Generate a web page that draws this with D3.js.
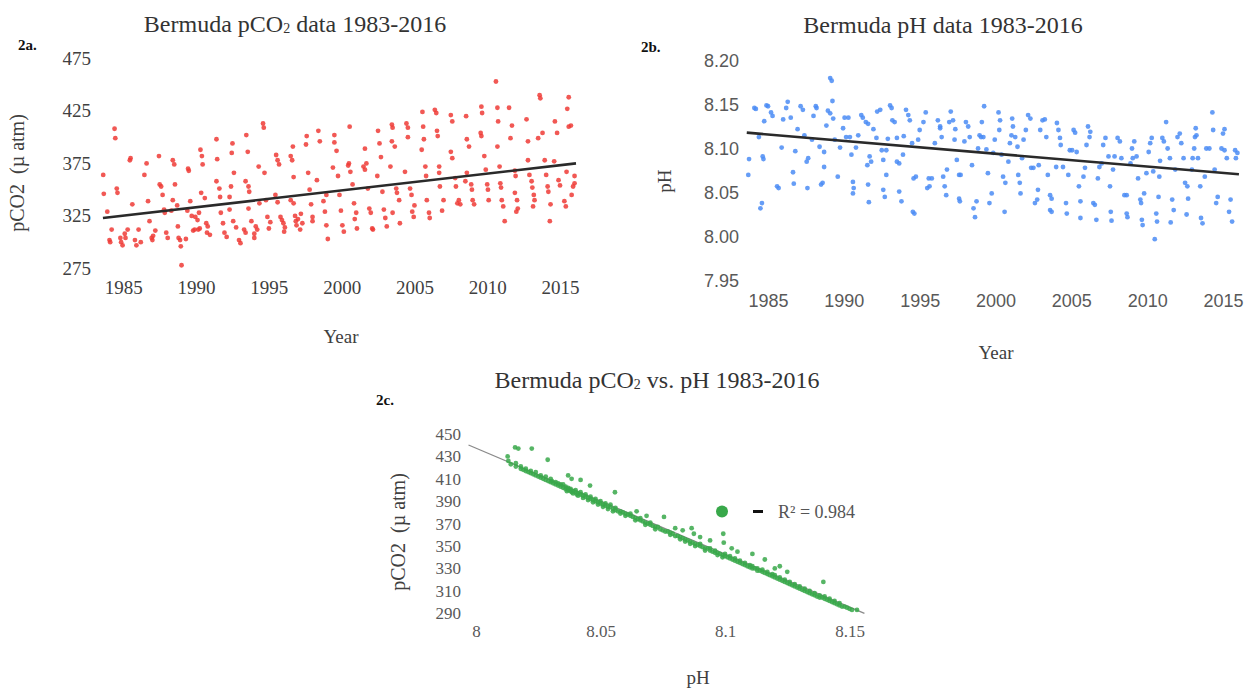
<!DOCTYPE html>
<html><head><meta charset="utf-8">
<script src="https://cdn.jsdelivr.net/npm/d3@7"></script>
<style>body{margin:0;background:#fff}svg{display:block}</style>
</head><body><svg id="c" width="1248" height="688"></svg>
<script>
// ---------- data ----------
const yearTicks = [1985, 1990, 1995, 2000, 2005, 2010, 2015];
const pco2Ticks = [275, 325, 375, 425, 475];
const phTicks = [7.95, 8.00, 8.05, 8.10, 8.15, 8.20];
const scatterPco2Ticks = [290, 310, 330, 350, 370, 390, 410, 430, 450];
const scatterPhTicks = [8, 8.05, 8.1, 8.15];

// Panel 2a: [year, pCO2 (µatm)]
const pco2Series = [
[1983.62,364],[1983.66,346],[1983.9,329],[1984.05,302],[1984.1,300],
[1984.2,312],[1984.4,408],[1984.45,399],[1984.55,351],[1984.6,347],[1984.8,304],[1984.85,300],[1984.95,297],[1985.1,308],[1985.15,304],
[1985.3,312],[1985.45,378],[1985.5,380],[1985.62,336],[1985.8,302],[1985.9,297],[1986.05,312],[1986.2,300],
[1986.45,364],[1986.6,375],[1986.7,339],[1986.8,320],[1986.95,304],[1987.05,306],[1987.0,302],[1987.2,311],
[1987.45,382],[1987.5,355],[1987.6,353],[1987.7,345],[1987.8,331],[1987.95,309],[1988.05,304],[1987.85,328],
[1988.4,378],[1988.5,374],[1988.55,355],[1988.4,340],[1988.7,335],[1988.75,315],[1988.8,304],[1988.9,302],[1988.95,296],[1989.0,278],[1988.3,330],
[1989.45,370],[1989.5,368],[1989.6,339],[1989.4,330],[1989.7,325],[1989.9,312],[1989.8,311],[1989.3,303],
[1990.3,388],[1990.4,382],[1990.45,374],[1990.35,347],[1990.2,328],[1989.95,324],[1990.1,321],[1990.15,312],[1990.25,313],
[1990.6,342],[1990.7,318],[1990.8,315],[1990.75,309],[1990.95,307],[1991.4,398],[1991.45,379],[1991.4,358],[1991.6,351],[1991.65,343],[1991.7,328],[1991.85,318],[1991.95,309],[1992.1,305],
[1992.5,394],[1992.45,385],[1992.6,366],[1992.4,353],[1992.3,343],[1992.3,331],[1992.55,320],[1992.75,314],[1992.95,302],[1993.05,299],
[1993.45,402],[1993.55,386],[1993.4,358],[1993.6,353],[1993.65,348],[1993.6,332],[1993.3,312],[1993.4,309],[1993.8,320],[1994.0,308],
[1994.1,315],[1994.2,312],[1994.3,372],[1994.35,337],[1994.0,304],[1994.6,413],[1994.65,409],[1994.7,366],[1994.8,340],[1994.9,324],[1995.0,313],[1995.1,319],
[1995.5,383],[1995.6,378],[1995.7,374],[1995.45,345],[1995.6,338],[1995.8,324],[1995.9,321],[1996.0,318],[1996.05,310],[1996.1,314],
[1996.5,382],[1996.6,378],[1996.65,391],[1996.7,362],[1996.7,337],[1996.8,325],[1996.85,320],[1996.9,316],[1996.5,340],[1997.0,322],
[1997.15,312],[1997.2,327],[1997.3,318],[1997.6,401],[1997.55,393],[1997.7,366],[1997.9,336],[1998.0,324],[1998.0,320],[1997.8,350],
[1998.4,406],[1998.5,396],[1998.3,359],[1998.75,339],[1998.85,329],[1998.95,316],[1999.05,303],[1998.95,345],
[1999.5,402],[1999.5,395],[1999.65,387],[1999.4,371],[1999.75,363],[1999.85,345],[1999.95,330],[2000.05,316],[2000.15,310],
[2000.55,410],[2000.5,375],[2000.45,373],[2000.6,367],[2000.75,355],[2000.85,337],[2001.0,328],[2001.05,313],[2000.9,322],
[2001.6,389],[2001.5,372],[2001.6,369],[2001.7,375],[2001.8,351],[2001.9,332],[2002.0,328],[2002.1,313],[2002.15,312],
[2002.5,406],[2002.6,394],[2002.7,381],[2002.45,363],[2002.8,348],[2002.9,331],[2003.0,323],[2003.1,315],
[2003.45,412],[2003.5,409],[2003.45,396],[2003.65,391],[2003.35,372],[2003.75,351],[2003.8,347],[2003.5,328],[2003.95,340],[2004.0,318],
[2004.45,413],[2004.55,409],[2004.55,400],[2004.35,367],[2004.7,351],[2004.85,329],[2004.95,324],[2004.8,345],[2005.0,335],
[2005.55,424],[2005.6,410],[2005.65,398],[2005.5,388],[2005.75,372],[2005.8,363],[2005.85,340],[2006.0,328],[2006.05,323],
[2006.4,426],[2006.5,423],[2006.55,406],[2006.6,401],[2006.7,372],[2006.7,366],[2006.75,353],[2007.0,340],[2006.9,330],
[2007.5,421],[2007.6,415],[2007.5,386],[2007.6,380],[2007.8,361],[2007.85,353],[2007.95,337],[2008.05,340],[2008.15,336],
[2008.55,420],[2008.6,398],[2008.75,391],[2008.6,366],[2008.5,358],[2008.9,355],[2008.95,350],[2009.0,340],[2009.1,336],
[2009.6,429],[2009.65,423],[2009.55,404],[2009.6,401],[2009.8,382],[2009.9,369],[2010.0,355],[2010.05,350],[2010.1,340],
[2010.6,453],[2010.7,428],[2010.75,415],[2010.7,391],[2010.85,372],[2010.9,356],[2010.95,352],[2011.0,340],[2011.1,334],[2011.2,320],
[2011.5,428],[2011.7,411],[2011.6,399],[2011.9,368],[2011.95,363],[2011.9,347],[2012.05,340],[2012.1,332],[2012.0,329],
[2012.7,417],[2012.8,396],[2012.8,378],[2012.9,364],[2013.05,358],[2013.1,352],[2013.2,345],[2013.25,340],[2013.15,334],
[2013.6,440],[2013.65,437],[2013.5,399],[2013.8,404],[2013.95,378],[2014.05,364],[2014.15,353],[2014.2,348],[2014.35,336],[2014.3,320],
[2014.65,415],[2014.8,404],[2014.6,377],[2014.9,359],[2015.0,354],[2015.3,339],[2015.4,334],[2015.45,367],
[2015.6,438],[2015.5,427],[2015.6,410],[2015.75,411],[2016.0,363],[2016.0,356],[2015.9,353],[2015.8,345]
];
const pco2Trend = [[1983.6, 323], [2016.1, 375]];

// Panel 2b: [year, pH]
const phSeries = [
[1983.7,8.070],[1983.75,8.088],[1984.1,8.146],[1984.2,8.145],[1984.4,8.113],[1984.5,8.032],[1984.6,8.038],[1984.65,8.091],[1984.7,8.088],[1984.75,8.131],
[1984.9,8.149],[1985.0,8.148],[1985.2,8.141],[1985.3,8.137],[1985.6,8.057],[1985.7,8.055],[1985.9,8.101],[1986.0,8.133],[1986.2,8.146],[1986.3,8.153],
[1986.5,8.135],[1986.65,8.073],[1986.7,8.060],[1986.8,8.097],[1986.95,8.122],[1987.15,8.148],[1987.3,8.144],[1987.4,8.115],[1987.55,8.085],[1987.65,8.089],
[1987.6,8.055],[1987.9,8.110],[1988.0,8.137],[1988.15,8.148],[1988.2,8.146],[1988.4,8.102],[1988.5,8.059],[1988.6,8.061],[1988.7,8.079],[1988.7,8.096],
[1988.85,8.126],[1988.95,8.143],[1989.1,8.140],[1989.1,8.180],[1989.2,8.177],[1989.25,8.154],[1989.3,8.134],[1989.4,8.110],[1989.6,8.068],[1989.75,8.101],
[1989.95,8.123],[1990.05,8.135],[1990.3,8.135],[1990.15,8.113],[1990.4,8.113],[1990.5,8.093],[1990.6,8.062],[1990.65,8.055],[1990.6,8.049],[1990.8,8.101],
[1990.95,8.115],[1991.15,8.138],[1991.25,8.135],[1991.45,8.130],[1991.6,8.128],[1991.6,8.059],[1991.65,8.039],[1991.55,8.081],[1991.7,8.091],[1991.8,8.085],
[1991.95,8.122],[1992.15,8.112],[1992.2,8.142],[1992.4,8.144],[1992.5,8.098],[1992.6,8.087],[1992.6,8.053],[1992.7,8.045],[1992.8,8.098],[1992.8,8.070],
[1992.9,8.111],[1993.05,8.149],[1993.15,8.146],[1993.2,8.132],[1993.35,8.130],[1993.5,8.112],[1993.5,8.085],[1993.65,8.083],[1993.65,8.051],[1993.8,8.040],
[1993.9,8.093],[1993.95,8.114],[1994.1,8.144],[1994.25,8.138],[1994.35,8.132],[1994.5,8.106],[1994.6,8.066],[1994.75,8.068],[1994.55,8.028],[1994.65,8.026],
[1994.9,8.110],[1995.0,8.121],[1995.25,8.130],[1995.4,8.141],[1995.5,8.055],[1995.65,8.057],[1995.6,8.066],[1995.8,8.066],[1996.0,8.106],[1996.2,8.132],
[1996.35,8.125],[1996.35,8.123],[1996.45,8.113],[1996.55,8.068],[1996.65,8.057],[1996.75,8.047],[1996.8,8.076],[1996.95,8.130],[1997.05,8.142],[1997.2,8.132],
[1997.35,8.122],[1997.3,8.110],[1997.45,8.087],[1997.6,8.070],[1997.7,8.070],[1997.6,8.043],[1997.65,8.040],[1997.95,8.108],[1998.05,8.130],[1998.2,8.125],
[1998.3,8.113],[1998.45,8.081],[1998.55,8.032],[1998.65,8.022],[1998.75,8.040],[1998.85,8.100],[1998.95,8.115],[1999.05,8.113],[1999.2,8.113],[1999.1,8.130],
[1999.25,8.148],[1999.4,8.099],[1999.5,8.072],[1999.6,8.038],[1999.75,8.049],[1999.85,8.095],[1999.95,8.110],[2000.2,8.141],[2000.3,8.132],[2000.25,8.121],
[2000.4,8.093],[2000.5,8.068],[2000.65,8.061],[2000.6,8.028],[2000.85,8.085],[2000.95,8.106],[2001.05,8.115],[2001.15,8.125],[2001.1,8.134],[2001.3,8.113],
[2001.45,8.102],[2001.5,8.070],[2001.65,8.049],[2001.6,8.061],[2001.75,8.089],[2001.85,8.110],[2002.0,8.121],[2002.15,8.138],[2002.3,8.134],[2002.35,8.078],
[2002.5,8.078],[2002.6,8.038],[2002.75,8.042],[2002.8,8.053],[2002.85,8.081],[2002.95,8.121],[2003.1,8.132],[2003.25,8.133],[2003.35,8.113],[2003.45,8.070],
[2003.6,8.047],[2003.7,8.043],[2003.6,8.030],[2003.7,8.028],[2004.0,8.079],[2004.05,8.129],[2004.15,8.121],[2004.25,8.112],[2004.3,8.104],[2004.45,8.079],
[2004.65,8.038],[2004.7,8.026],[2004.8,8.070],[2004.9,8.098],[2005.05,8.098],[2005.15,8.121],[2005.25,8.118],[2005.35,8.096],[2005.5,8.057],[2005.6,8.040],
[2005.6,8.021],[2005.8,8.068],[2005.9,8.078],[2006.0,8.104],[2006.1,8.125],[2006.25,8.119],[2006.2,8.113],[2006.45,8.038],[2006.55,8.036],[2006.65,8.019],
[2006.75,8.066],[2006.85,8.079],[2007.0,8.083],[2007.1,8.104],[2007.25,8.112],[2007.45,8.091],[2007.55,8.057],[2007.6,8.028],[2007.65,8.018],[2007.75,8.076],
[2007.85,8.091],[2008.05,8.112],[2008.2,8.108],[2008.3,8.089],[2008.5,8.047],[2008.65,8.047],[2008.65,8.026],[2008.7,8.022],[2008.9,8.083],[2009.05,8.089],
[2009.0,8.100],[2009.15,8.108],[2009.3,8.091],[2009.4,8.066],[2009.55,8.042],[2009.6,8.038],[2009.65,8.019],[2009.7,8.013],[2009.8,8.049],[2009.95,8.072],
[2010.1,8.096],[2010.2,8.106],[2010.3,8.112],[2010.4,8.074],[2010.5,7.997],[2010.6,8.026],[2010.65,8.017],[2010.75,8.045],[2010.8,8.068],[2010.85,8.086],
[2011.0,8.112],[2011.1,8.108],[2011.25,8.130],[2011.35,8.100],[2011.5,8.089],[2011.65,8.042],[2011.75,8.030],[2011.55,8.016],[2011.85,8.076],[2012.0,8.113],
[2012.15,8.117],[2012.25,8.106],[2012.4,8.089],[2012.5,8.061],[2012.65,8.057],[2012.6,8.025],[2012.7,8.043],[2012.95,8.076],[2013.0,8.089],[2013.1,8.100],
[2013.15,8.113],[2013.25,8.115],[2013.2,8.123],[2013.35,8.089],[2013.5,8.057],[2013.55,8.021],[2013.65,8.015],[2013.8,8.068],[2013.9,8.100],[2014.1,8.100],
[2014.3,8.141],[2014.35,8.121],[2014.45,8.076],[2014.55,8.038],[2014.65,8.045],[2014.9,8.100],[2015.0,8.117],[2015.1,8.122],[2015.1,8.098],[2015.25,8.089],
[2015.4,8.028],[2015.5,8.042],[2015.6,8.017],[2015.8,8.098],[2015.95,8.095],[2015.85,8.089]
];
const phTrend = [[1983.6, 8.118], [2016.05, 8.0707]];

// Panel 2c: [pH, pCO2 (µatm)]
const scatterSeries = [
[8.013,426],[8.014,423],[8.016,421],[8.016,424],[8.018,419],[8.018,421],[8.019,418],[8.020,417],[8.020,419],[8.021,416],
[8.022,415],[8.022,417],[8.023,414],[8.024,413],[8.024,416],[8.025,412],[8.026,411],[8.026,413],[8.027,410],[8.028,409],
[8.028,412],[8.029,408],[8.030,407],[8.030,410],[8.0305,408],[8.031,406],[8.032,405],[8.032,407],[8.033,404],[8.033,406],
[8.034,403],[8.034,405],[8.035,402],[8.035,405],[8.036,401],[8.036,403],[8.0365,399],[8.037,400],[8.037,402],[8.038,399],
[8.038,401],[8.0385,398],[8.039,399],[8.039,397],[8.040,398],[8.040,400],[8.0405,396],[8.041,397],[8.041,395],[8.042,396],
[8.042,398],[8.043,395],[8.043,393],[8.044,394],[8.044,396],[8.045,393],[8.045,391],[8.046,392],[8.046,394],[8.047,391],
[8.047,389],[8.048,390],[8.048,392],[8.049,389],[8.049,387],[8.050,388],[8.050,390],[8.051,387],[8.051,385],[8.052,386],
[8.052,388],[8.053,385],[8.053,383],[8.054,385],[8.054,387],[8.055,383],[8.055,381],[8.056,382],[8.056,384],[8.057,381],
[8.058,381],[8.058,379],[8.059,380],[8.060,379],[8.060,377],[8.061,378],[8.062,377],[8.062,379],[8.063,376],[8.064,375],
[8.064,373],[8.065,374],[8.066,373],[8.066,375],[8.067,372],[8.068,371],[8.068,369],[8.069,370],[8.070,369],[8.070,371],
[8.071,368],[8.072,367],[8.072,365],[8.073,367],[8.074,365],[8.075,364],[8.076,363],[8.077,363],[8.078,362],[8.078,360],
[8.079,361],[8.080,359],[8.081,359],[8.082,358],[8.082,356],[8.083,357],[8.084,356],[8.084,354],[8.085,355],[8.086,354],
[8.086,352],[8.087,353],[8.088,352],[8.088,350],[8.089,351],[8.090,350],[8.090,352],[8.091,349],[8.092,348],[8.092,346],
[8.093,348],[8.094,346],[8.094,348],[8.095,345],[8.096,344],[8.096,346],[8.097,344],[8.097,342],[8.098,343],[8.099,342],
[8.099,340],[8.100,341],[8.100,343],[8.101,340],[8.102,339],[8.102,341],[8.103,338],[8.104,337],[8.104,339],[8.105,336],
[8.106,335],[8.106,337],[8.107,334],[8.108,333],[8.108,335],[8.109,332],[8.110,331],[8.110,333],[8.111,330],[8.111,332],
[8.112,330],[8.113,328],[8.113,330],[8.114,328],[8.115,327],[8.115,329],[8.116,326],[8.117,325],[8.117,327],[8.118,324],
[8.119,323],[8.119,325],[8.120,322],[8.120,324],[8.121,321],[8.122,320],[8.122,322],[8.123,319],[8.124,318],[8.124,320],
[8.125,317],[8.126,316],[8.126,318],[8.127,315],[8.128,314],[8.128,316],[8.129,313],[8.130,312],[8.130,314],[8.131,311],
[8.132,310],[8.132,312],[8.133,309],[8.134,308],[8.134,310],[8.135,307],[8.136,306],[8.136,308],[8.137,305],[8.138,304],
[8.138,306],[8.139,304],[8.140,303],[8.140,305],[8.141,302],[8.142,301],[8.142,303],[8.143,300],[8.144,299],[8.144,301],
[8.145,298],[8.146,297],[8.146,299],[8.147,296],[8.148,296],[8.149,295],[8.150,294],[8.151,293],[8.153,293],
[8.0127,430],[8.0157,438],[8.017,437],[8.0224,437],[8.0288,427],[8.037,413],[8.0384,410],[8.042,409],[8.0458,404],[8.0558,398],
[8.0645,381],[8.0685,377],[8.0755,376],[8.080,366],[8.083,364],[8.0866,366],[8.0875,361],[8.090,358],[8.094,355],[8.0993,361],
[8.0995,353],[8.1027,348],[8.105,345],[8.111,343],[8.116,338],[8.120,330],[8.122,332],[8.125,327],[8.1395,318]
];
const scatterTrend = [[7.997, 440.2], [8.156, 290]];
const scatterR2 = 0.984;

// ---------- drawing ----------
const SERIF = "'Liberation Serif','Times New Roman',serif";
const SANS = "'Liberation Sans',Arial,sans-serif";
const svg = d3.select("#c");
svg.append("rect").attr("width", 1248).attr("height", 688).attr("fill", "#fff");

function title(x, y, parts) {
  const t = svg.append("text").attr("x", x).attr("y", y).attr("text-anchor", "middle")
    .attr("font-family", SERIF).attr("font-size", 24).attr("fill", "#333");
  parts.forEach(p => {
    if (p.sub) t.append("tspan").attr("font-size", 14).attr("dy", 1).text(p.t);
    else t.append("tspan").attr("dy", p.back ? -1 : 0).text(p.t);
  });
}
function label(x, y, txt, opts = {}) {
  const t = svg.append("text").attr("x", x).attr("y", y)
    .attr("text-anchor", opts.anchor || "middle")
    .attr("font-family", opts.family || SERIF)
    .attr("font-size", opts.size || 19)
    .attr("font-weight", opts.weight || "normal")
    .attr("fill", opts.fill || "#404040")
    .style("white-space", "pre")
    .text(txt);
  if (opts.rotate) t.attr("transform", `rotate(-90,${x},${y})`);
  return t;
}
function styleAxis(g, family, size, fill) {
  g.select(".domain").remove();
  g.selectAll("text").attr("font-family", family).attr("font-size", size).attr("fill", fill);
}
const yLabel = "pCO2\u00a0\u00a0(\u00b5 atm)";

// ===== Panel 2a =====
{
  const x = d3.scaleLinear().domain([1985, 2015]).range([123.3, 560]);
  const y = d3.scaleLinear().domain([275, 475]).range([268.4, 58.4]);
  title(295, 32, [{t: "Bermuda pCO"}, {t: "2", sub: true}, {t: " data 1983-2016", back: true}]);
  label(18, 50, "2a.", {anchor: "start", size: 15, weight: "bold", fill: "#111"});
  svg.append("g").attr("transform", "translate(100,0)")
    .call(d3.axisLeft(y).tickValues(pco2Ticks).tickSize(0).tickPadding(9))
    .call(g => styleAxis(g, SERIF, 19, "#404040"));
  svg.append("g").attr("transform", "translate(0,272)")
    .call(d3.axisBottom(x).tickValues(yearTicks).tickFormat(d3.format("d")).tickSize(0).tickPadding(9))
    .call(g => styleAxis(g, SERIF, 19, "#404040"));
  svg.append("g").selectAll("circle").data(pco2Series).join("circle")
    .attr("cx", d => x(d[0])).attr("cy", d => y(d[1])).attr("r", 2.4)
    .attr("fill", "#ef3b36").attr("fill-opacity", 0.85);
  svg.append("path").datum(pco2Trend)
    .attr("d", d3.line().x(d => x(d[0])).y(d => y(d[1])))
    .attr("stroke", "#2a2a2a").attr("stroke-width", 2.6).attr("fill", "none");
  label(24, 173, yLabel, {rotate: true, size: 20});
  label(341, 343, "Year", {size: 19});
}

// ===== Panel 2b =====
{
  const x = d3.scaleLinear().domain([1985, 2015]).range([768, 1223]);
  const y = d3.scaleLinear().domain([7.95, 8.20]).range([280.5, 60.5]);
  title(943, 33, [{t: "Bermuda pH data 1983-2016"}]);
  label(641, 52, "2b.", {anchor: "start", size: 15, weight: "bold", fill: "#111"});
  svg.append("g").attr("transform", "translate(748,0)")
    .call(d3.axisLeft(y).tickValues(phTicks).tickFormat(d3.format(".2f")).tickSize(0).tickPadding(9))
    .call(g => styleAxis(g, SANS, 18, "#595959"));
  svg.append("g").attr("transform", "translate(0,285)")
    .call(d3.axisBottom(x).tickValues(yearTicks).tickFormat(d3.format("d")).tickSize(0).tickPadding(9))
    .call(g => styleAxis(g, SANS, 18, "#595959"));
  svg.append("g").selectAll("circle").data(phSeries).join("circle")
    .attr("cx", d => x(d[0])).attr("cy", d => y(d[1])).attr("r", 2.4)
    .attr("fill", "#4b8cf5").attr("fill-opacity", 0.85);
  svg.append("path").datum(phTrend)
    .attr("d", d3.line().x(d => x(d[0])).y(d => y(d[1])))
    .attr("stroke", "#2a2a2a").attr("stroke-width", 2.6).attr("fill", "none");
  label(671, 181, "pH", {rotate: true, size: 19});
  label(996, 359, "Year", {size: 19});
}

// ===== Panel 2c =====
{
  const x = d3.scaleLinear().domain([8, 8.15]).range([476, 849.5]);
  const y = d3.scaleLinear().domain([290, 450]).range([613.3, 434]);
  title(657, 388, [{t: "Bermuda pCO"}, {t: "2", sub: true}, {t: " vs. pH 1983-2016", back: true}]);
  label(376, 405, "2c.", {anchor: "start", size: 15, weight: "bold", fill: "#111"});
  svg.append("g").attr("transform", "translate(470,0)")
    .call(d3.axisLeft(y).tickValues(scatterPco2Ticks).tickSize(0).tickPadding(9))
    .call(g => styleAxis(g, SERIF, 17, "#595959"));
  svg.append("g").attr("transform", "translate(0,616)")
    .call(d3.axisBottom(x).tickValues(scatterPhTicks).tickFormat(d => String(d)).tickSize(0).tickPadding(9))
    .call(g => styleAxis(g, SERIF, 17, "#595959"));
  svg.append("path").datum(scatterTrend)
    .attr("d", d3.line().x(d => x(d[0])).y(d => y(d[1])))
    .attr("stroke", "#8a8a8a").attr("stroke-width", 1.3).attr("fill", "none");
  svg.append("g").selectAll("circle").data(scatterSeries).join("circle")
    .attr("cx", d => x(d[0])).attr("cy", d => y(d[1])).attr("r", 2.4)
    .attr("fill", "#38a84a").attr("fill-opacity", 0.85);
  label(405, 532, yLabel, {rotate: true, size: 20});
  label(698, 684, "pH", {size: 19});
  // legend
  svg.append("circle").attr("cx", 722).attr("cy", 511.5).attr("r", 6).attr("fill", "#38a84a");
  svg.append("line").attr("x1", 753).attr("x2", 763).attr("y1", 511.5).attr("y2", 511.5)
    .attr("stroke", "#111").attr("stroke-width", 3);
  label(778, 517.5, `R\u00b2 = ${scatterR2}`, {anchor: "start", size: 18, fill: "#555"});
}
</script></body></html>
